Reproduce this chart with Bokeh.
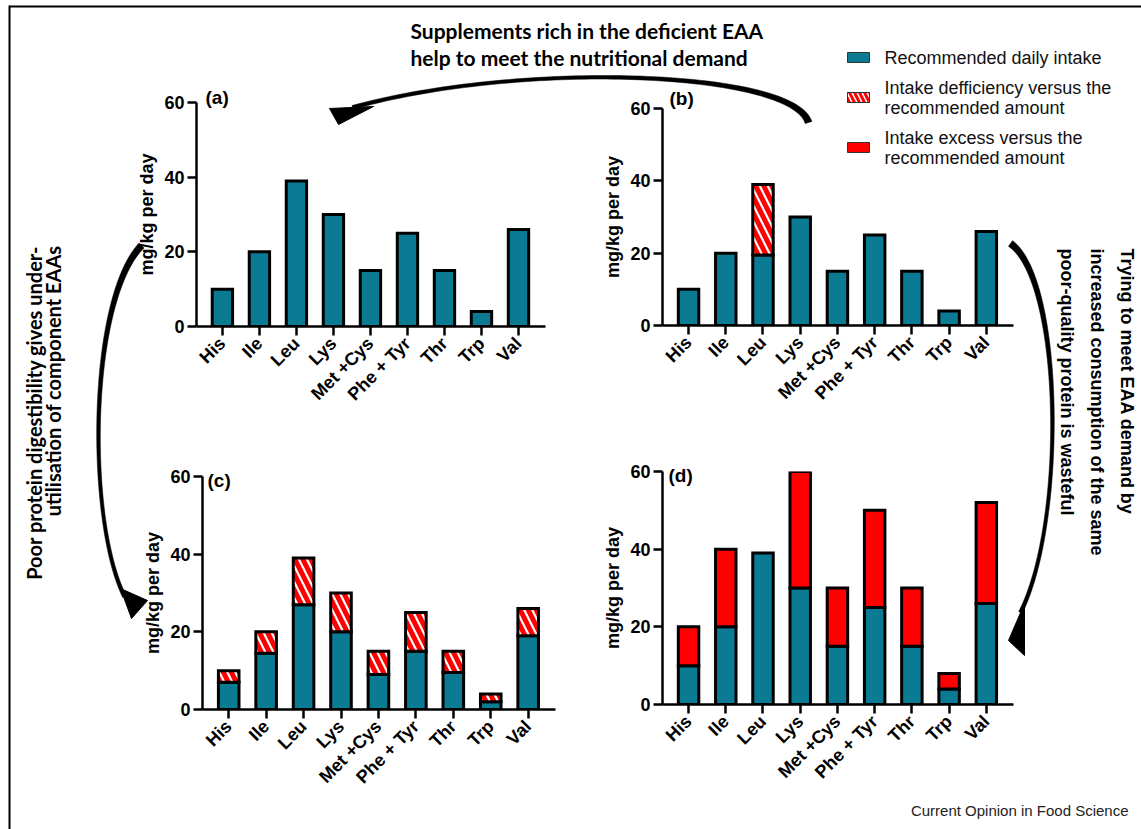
import math
import numpy as np
from bokeh.plotting import figure
from bokeh.models import Range1d, FixedTicker, GridBox
from bokeh.core.properties import value
from bokeh.embed import file_html
from bokeh.resources import INLINE

# ---------------- data ----------------
amino_acids = ["His", "Ile", "Leu", "Lys", "Met +Cys", "Phe + Tyr", "Thr", "Trp", "Val"]
recommended = [10, 20, 39, 30, 15, 25, 15, 4, 26]          # (a) recommended daily intake
b_intake = [10, 20, 19.5, 30, 15, 25, 15, 4, 26]            # (b) intake with Leu deficiency
c_utilised = [7, 14.5, 27, 20, 9, 15, 9.5, 2, 19]           # (c) utilised after poor digestibility
d_intake = [20, 40, 39, 60, 30, 50, 30, 8, 52]              # (d) total intake, doubled consumption
y_ticks = [0, 20, 40, 60]
panel_labels = ["(a)", "(b)", "(c)", "(d)"]
legend_labels = ["Recommended daily intake",
                 "Intake defficiency versus the\nrecommended amount",
                 "Intake excess versus the\nrecommended amount"]

TEAL = "#0b7a93"
RED = "#ff0000"
AXFONT = "Liberation Sans"
CAL = "Lato"

xs = list(range(len(amino_acids)))
BAR_W = 0.55
HATCH = dict(hatch_pattern="left_diagonal_line", hatch_color=RED, hatch_weight=5, hatch_scale=16)


def panel(w, h, left, right, top, bottom):
    p = figure(width=w, height=h, x_range=Range1d(-0.7, 8.73), y_range=Range1d(0, 60),
               output_backend="svg", toolbar_location=None,
               min_border_left=left, min_border_right=right,
               min_border_top=top, min_border_bottom=bottom)
    p.background_fill_alpha = 0
    p.border_fill_alpha = 0
    p.outline_line_color = None
    p.grid.visible = False
    for ax in (p.xaxis[0], p.yaxis[0]):
        ax.axis_line_width = 2.5
        ax.axis_line_color = "black"
        ax.major_tick_line_width = 2.5
        ax.major_tick_line_color = "black"
        ax.major_tick_in = 0
        ax.major_tick_out = 9
        ax.minor_tick_line_color = None
        ax.major_label_text_font = AXFONT
        ax.major_label_text_font_style = "bold"
        ax.major_label_text_font_size = "18px"
        ax.major_label_text_color = "black"
    p.xaxis.ticker = FixedTicker(ticks=xs)
    p.xaxis.major_label_overrides = {i: c for i, c in enumerate(amino_acids)}
    p.xaxis.major_label_orientation = math.pi / 4
    p.xaxis.major_label_standoff = 5
    p.yaxis.ticker = FixedTicker(ticks=y_ticks)
    p.yaxis.major_label_standoff = 3
    p.yaxis.axis_label = "mg/kg per day"
    p.yaxis.axis_label_text_font = AXFONT
    p.yaxis.axis_label_text_font_style = "bold"
    p.yaxis.axis_label_text_font_size = "18px"
    p.yaxis.axis_label_text_color = "black"
    p.yaxis.axis_label_standoff = 4
    return p


def bars(p, bottom, top, **kw):
    idx = [i for i in xs if top[i] > bottom[i]]
    p.vbar(x=[xs[i] for i in idx], bottom=[bottom[i] for i in idx], top=[top[i] for i in idx],
           width=BAR_W, line_color="black", line_width=3, line_join="miter", **kw)


zeros = [0] * len(xs)

pa = panel(569, 413, 195, 25, 101, 80)
bars(pa, zeros, recommended, fill_color=TEAL)

pb = panel(569, 411, 91, 127, 106, 72)
bars(pb, zeros, b_intake, fill_color=TEAL)
bars(pb, b_intake, recommended, fill_color="white", **HATCH)

pc = panel(567, 413, 200, 14, 61, 119)
bars(pc, zeros, c_utilised, fill_color=TEAL)
bars(pc, c_utilised, recommended, fill_color="white", **HATCH)

pd_ = panel(567, 411, 90, 126, 55, 123)
bars(pd_, zeros, recommended, fill_color=TEAL)
bars(pd_, recommended, d_intake, fill_color=RED)

# ---------------- background: arrows, notes, legend ----------------
bg = figure(width=1141, height=829, x_range=Range1d(0, 1141), y_range=Range1d(829, 0),
            output_backend="svg", toolbar_location=None,
            x_axis_location=None, y_axis_location=None,
            min_border_left=0, min_border_right=0, min_border_top=0, min_border_bottom=0)
bg.grid.visible = False
bg.outline_line_color = None
bg.background_fill_color = "white"
bg.border_fill_color = "white"

# frame lines of the cropped figure
bg.segment(x0=[9, 9], y0=[6, 5], x1=[1141, 9], y1=[6, 829], line_color="black", line_width=2)


def swoosh(P, w0, wm, w1, n=80):
    t = np.linspace(0, 1, n)[:, None]
    P0, P1, P2, P3 = [np.array(q, float) for q in P]
    B = (1 - t) ** 3 * P0 + 3 * (1 - t) ** 2 * t * P1 + 3 * (1 - t) * t ** 2 * P2 + t ** 3 * P3
    D = 3 * (1 - t) ** 2 * (P1 - P0) + 6 * (1 - t) * t * (P2 - P1) + 3 * t ** 2 * (P3 - P2)
    D = D / np.linalg.norm(D, axis=1)[:, None]
    N = np.column_stack([-D[:, 1], D[:, 0]])
    tt = t[:, 0]
    wdt = w0 * (1 - tt) ** 2 + wm * 2 * tt * (1 - tt) + w1 * tt ** 2
    L = B + N * wdt[:, None] / 2
    R = B - N * wdt[:, None] / 2
    return list(np.concatenate([L[:, 0], R[::-1, 0]])), list(np.concatenate([L[:, 1], R[::-1, 1]]))


arrow_bodies = [
    ((808, 122), (792, 70), (520, 60), (352, 107)),       # top: (b) -> (a)
    ((141, 245), (88, 300), (86, 520), (124, 596)),       # left: (a) -> (c)
    ((1010, 243), (1062, 280), (1066, 520), (1020, 612)),  # right: (b) -> (d)
]
arrow_heads = [
    ([329, 338, 373], [108, 124, 106]),
    ([120, 147, 131], [588, 600, 618]),
    ([1008, 1024, 1024], [640, 603, 655]),
]
bx, by = [], []
for P in arrow_bodies:
    x_, y_ = swoosh(P, 7, 2, 4)
    bx.append(x_)
    by.append(y_)
bg.patches(bx, by, fill_color="black", line_color="black", line_width=0.5)
bg.patches([h[0] for h in arrow_heads], [h[1] for h in arrow_heads], fill_color="black", line_color="black")

# annotations text
bg.text(x=[410, 410], y=[30, 57],
        text=["Supplements rich in the deficient EAA", "help to meet the nutritional demand"],
        text_font=value(CAL), text_font_style="bold", text_font_size="21px",
        text_align="left", text_baseline="middle", text_color="black")
bg.text(x=[33, 52], y=[245, 245],
        text=["Poor protein digestibility gives under-", "utilisation of component EAAs"],
        angle=math.pi / 2, text_font=value(CAL), text_font_style="bold", text_font_size="20px",
        text_align="right", text_baseline="middle", text_color="black")
bg.text(x=[1126, 1096, 1066], y=[248, 248, 248],
        text=["Trying to meet EAA demand by", "increased consumption of the same",
              "poor-quality protein is wasteful"],
        angle=-math.pi / 2, text_font=value(AXFONT), text_font_style="bold", text_font_size="18px",
        text_align="left", text_baseline="middle", text_color="black")

# panel letters
bg.text(x=[205, 669, 207, 668], y=[97, 98, 480, 475], text=panel_labels,
        text_font=value(AXFONT), text_font_style="bold", text_font_size="19px",
        text_align="left", text_baseline="middle", text_color="black")

# legend
bg.rect(x=[858, 858, 858], y=[57, 97, 147], width=22, height=10,
        fill_color=[TEAL, "white", RED], line_color="#333333", line_width=1)
bg.rect(x=[858], y=[97], width=22, height=10, fill_color="white", line_color="#333333",
        line_width=1, hatch_pattern="left_diagonal_line", hatch_color=RED, hatch_weight=3, hatch_scale=10)
leg_y = [57, 87, 107, 137, 157]
leg_txt = [legend_labels[0]] + legend_labels[1].split("\n") + legend_labels[2].split("\n")
bg.text(x=[884] * 5, y=leg_y, text=leg_txt, text_font=value(AXFONT), text_font_size="18px",
        text_align="left", text_baseline="middle", text_color="#111111")

bg.text(x=[1128], y=[810], text=["Current Opinion in Food Science"], text_font=value(AXFONT),
        text_font_size="15px", text_align="right", text_baseline="middle", text_color="#222222")

# grid tracks with unique edges for every figure (avoids frame alignment between them)
col_tracks = ["1px", "1px", "567px", "1px", "1px", "1px", "567px", "1px", "1px"]
row_tracks = ["1px", "1px", "411px", "1px", "1px", "1px", "411px", "1px", "1px"]
layout = GridBox(children=[(bg, 0, 0, 9, 9),
                           (pa, 1, 1, 3, 3),
                           (pb, 2, 5, 1, 3),
                           (pc, 5, 2, 3, 1),
                           (pd_, 6, 6, 1, 1)],
                 rows=row_tracks, cols=col_tracks, spacing=0)

open("out.html", "w").write(file_html(layout, INLINE))
